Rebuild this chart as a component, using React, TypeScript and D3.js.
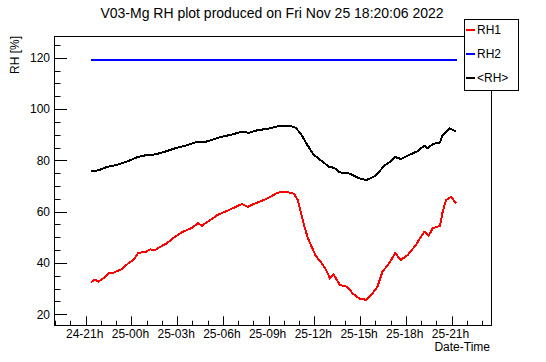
import React, { useRef, useEffect } from 'react';
import * as d3 from 'd3';

// hours counted from 24-00h
const rh1Hours = [21.35, 21.61, 21.83, 22.16, 22.49, 22.82, 23.37, 23.8, 24.13, 24.46, 24.9, 25.23, 25.56, 25.89, 26.33, 26.76, 27.32, 27.97, 28.37, 28.63, 29.07, 29.46, 29.62, 30.16, 30.71, 31.26, 31.63, 32.14, 32.68, 33.24, 33.57, 34.11, 34.66, 34.92, 35.1, 35.32, 35.58, 35.87, 36.09, 36.41, 36.74, 37.03, 37.25, 37.68, 38.17, 38.5, 38.93, 39.42, 39.82, 40.14, 40.47, 40.91, 41.3, 41.68, 42.12, 42.66, 43.21, 43.5, 43.76, 44.24, 44.42, 44.64, 44.96, 45.3];
const rh1Values = [32.5, 33.6, 32.7, 34.0, 36.0, 36.2, 37.6, 39.9, 41.2, 44.0, 44.2, 45.3, 45.1, 46.3, 47.7, 49.8, 52.0, 53.7, 55.5, 54.5, 56.4, 57.9, 58.7, 60.0, 61.5, 63.0, 61.9, 63.3, 64.5, 66.2, 67.4, 67.8, 67.0, 64.5, 60.0, 54.8, 49.6, 45.7, 42.8, 40.5, 37.6, 34.0, 35.6, 31.4, 30.7, 28.2, 26.2, 25.6, 28.2, 30.7, 36.6, 39.9, 43.8, 41.2, 43.1, 47.0, 52.2, 50.6, 53.5, 54.5, 60.0, 64.5, 65.8, 63.3];

const rh2Hours = [21.35, 45.35];
const rh2Values = [119.2, 119.2];

const avgHours = [21.35, 21.83, 22.38, 23.04, 23.7, 24.36, 25.01, 25.56, 26.22, 26.88, 27.53, 28.19, 28.74, 29.46, 29.84, 30.49, 31.26, 31.7, 32.25, 33.13, 33.67, 34.44, 34.77, 35.1, 35.54, 35.97, 36.41, 36.96, 37.29, 37.68, 38.28, 38.93, 39.42, 40.03, 40.58, 41.02, 41.3, 41.68, 42.22, 42.78, 43.21, 43.43, 43.76, 44.24, 44.42, 44.86, 45.3];
const avgValues = [75.8, 76.1, 77.4, 78.2, 79.5, 81.2, 82.1, 82.3, 83.4, 84.7, 85.7, 87.0, 87.0, 88.3, 89.1, 89.9, 91.2, 90.7, 91.7, 92.5, 93.4, 93.4, 92.7, 90.5, 86.0, 82.1, 80.1, 77.5, 77.1, 75.3, 74.9, 73.0, 72.3, 74.0, 77.9, 79.7, 81.3, 80.5, 82.1, 83.6, 85.7, 84.7, 86.3, 87.0, 89.9, 92.5, 91.2];

const yTicks = [20, 40, 60, 80, 100, 120];
const xTicks = [21, 24, 27, 30, 33, 36, 39, 42, 45];

const seriesNames = ['RH1', 'RH2', '<RH>'];
const seriesColors = ['#ff0000', '#0000ff', '#000000'];

const App: React.FC = () => {
  const ref = useRef<SVGSVGElement | null>(null);

  useEffect(() => {
    if (!ref.current) return;
    const svg = d3.select(ref.current);
    svg.selectAll('*').remove();

    const left = 54, right = 491, top = 36, bottom = 325;
    const font = '"Liberation Sans", Arial, sans-serif';

    const x = d3.scaleLinear().domain([18.92, 47.59]).range([left, right]);
    const y = d3.scaleLinear().domain([15.83, 128.46]).range([bottom, top]);

    svg.append('rect').attr('width', 546).attr('height', 362).attr('fill', 'white');

    // title
    svg.append('text')
      .attr('x', 272).attr('y', 18)
      .attr('text-anchor', 'middle')
      .style('font-family', font).style('font-size', '14px')
      .text('V03-Mg RH plot produced on Fri Nov 25 18:20:06 2022');

    // frame
    svg.append('rect')
      .attr('x', left + 0.5).attr('y', top + 0.5)
      .attr('width', right - left).attr('height', bottom - top)
      .attr('fill', 'none').attr('stroke', 'black').attr('stroke-width', 1);

    // y axis ticks
    const yMinor = d3.range(20, 129, 5);
    const gy = svg.append('g');
    gy.selectAll('line').data(yMinor).enter().append('line')
      .attr('x1', left).attr('x2', (d) => left + (d % 20 === 0 ? 13 : 6.5))
      .attr('y1', (d) => Math.round(y(d)) + 0.5).attr('y2', (d) => Math.round(y(d)) + 0.5)
      .attr('stroke', 'black');
    gy.selectAll('text').data(yTicks).enter().append('text')
      .attr('x', 50).attr('y', (d) => y(d))
      .attr('dy', '0.36em').attr('text-anchor', 'end')
      .style('font-family', font).style('font-size', '12px')
      .text((d) => d);

    // x axis ticks
    const xMinor = d3.range(19, 48, 1);
    const gx = svg.append('g');
    gx.selectAll('line').data(xMinor).enter().append('line')
      .attr('x1', (d) => Math.round(x(d)) + 0.5).attr('x2', (d) => Math.round(x(d)) + 0.5)
      .attr('y1', bottom).attr('y2', (d) => bottom - (d % 3 === 0 ? 8.7 : 4.3))
      .attr('stroke', 'black');
    gx.selectAll('text').data(xTicks).enter().append('text')
      .attr('x', (d) => x(d) - 1).attr('y', 338)
      .attr('text-anchor', 'middle')
      .style('font-family', font).style('font-size', '12px')
      .text((d) => {
        const day = 24 + Math.floor(d / 24);
        const hh = d % 24;
        return `${day}-${hh < 10 ? '0' + hh : hh}h`;
      });

    // axis titles
    svg.append('text')
      .attr('x', 490).attr('y', 351)
      .attr('text-anchor', 'end')
      .style('font-family', font).style('font-size', '12px')
      .text('Date-Time');
    svg.append('text')
      .attr('transform', 'translate(19,36) rotate(-90)')
      .attr('text-anchor', 'end')
      .style('font-family', font).style('font-size', '12px')
      .text('RH [%]');

    const line = d3.line<[number, number]>()
      .x((d) => x(d[0]))
      .y((d) => y(d[1]));

    const series: [number[], number[]][] = [
      [rh1Hours, rh1Values],
      [rh2Hours, rh2Values],
      [avgHours, avgValues],
    ];
    series.forEach(([hs, vs], i) => {
      svg.append('path')
        .datum(hs.map((h, j) => [h, vs[j]] as [number, number]))
        .attr('d', line)
        .attr('fill', 'none')
        .attr('stroke', seriesColors[i])
        .attr('stroke-width', 2)
        .attr('shape-rendering', 'crispEdges');
    });

    // legend
    const lg = svg.append('g');
    lg.append('rect')
      .attr('x', 464.5).attr('y', 19.5).attr('width', 54).attr('height', 71)
      .attr('fill', 'white').attr('stroke', 'black');
    seriesNames.forEach((name, i) => {
      const cy = 30 + i * 24;
      lg.append('line')
        .attr('x1', 466).attr('x2', 475).attr('y1', cy).attr('y2', cy)
        .attr('stroke', seriesColors[i]).attr('stroke-width', 2);
      lg.append('text')
        .attr('x', 477).attr('y', cy).attr('dy', '0.36em')
        .style('font-family', font).style('font-size', '12px')
        .text(name);
    });
  }, []);

  return (
    <svg ref={ref} width={546} height={362} style={{ position: 'absolute', left: 0, top: 0 }} />
  );
};

export default App;
